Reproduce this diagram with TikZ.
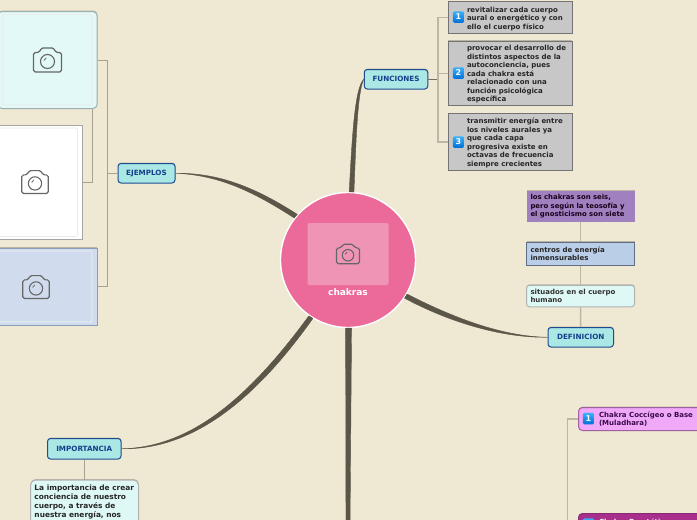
\documentclass[tikz,border=0pt]{standalone}
\usepackage{fontspec}
\setmainfont{DejaVu Sans}
\usetikzlibrary{shadows}
\definecolor{bgc}{HTML}{EFE8D2}
\definecolor{trunkc}{HTML}{5A5648}
\definecolor{linkc}{HTML}{A8A18F}
\definecolor{linkl}{HTML}{BDB6A2}
\definecolor{tealc}{HTML}{A9E8E4}
\definecolor{navyc}{HTML}{1F4B8F}
\definecolor{navyt}{HTML}{163F8C}
\definecolor{rosec}{HTML}{EC6A9A}
\definecolor{rosel}{HTML}{F094B5}
\definecolor{palec}{HTML}{E2F9F7}
\definecolor{paleb}{HTML}{9DB0AE}
\definecolor{bluep}{HTML}{D0DCEE}
\definecolor{bluepb}{HTML}{8B9CB8}
\definecolor{purpc}{HTML}{A180C0}
\definecolor{blued}{HTML}{BACEE8}
\definecolor{bluedb}{HTML}{5F6E85}
\definecolor{paled}{HTML}{DDF8F5}
\definecolor{pinkc}{HTML}{F0A8F8}
\definecolor{pinkb}{HTML}{A060A0}
\definecolor{pinkt}{HTML}{3A0A4A}
\definecolor{magc}{HTML}{A8308C}
\definecolor{magb}{HTML}{8C2878}
\definecolor{badget}{HTML}{3CB0F8}
\definecolor{badgeb}{HTML}{0070D8}
\newcommand{\bodyfont}{\fontsize{7}{8.5}\selectfont\bfseries}
\tikzset{
  softshadow/.style={general shadow={fill=black,opacity=.22,shadow yshift=1pt,shadow xshift=0.3pt}},
  topic/.style={draw=navyc,line width=1pt,fill=tealc,rounded corners=3pt,softshadow,
    text=navyt,font=\fontsize{7.2}{8}\selectfont\bfseries,inner sep=0pt,minimum height=19.5pt},
  photo/.style={draw=#1,line width=1pt,inner sep=0pt,softshadow},
  graybox/.style={draw=black!55,line width=1pt,fill=black!22,softshadow,inner sep=2pt,text=black!85,
    font=\bodyfont,minimum width=124pt},
  badge/.style={rounded corners=1.5pt,top color=badget,bottom color=badgeb,text=white,
    font=\fontsize{8}{8}\selectfont\bfseries,minimum size=11.5pt,inner sep=0pt},
  defbox/.style={font=\bodyfont,inner sep=0pt,minimum width=108pt,softshadow},
  thin link/.style={draw=linkc,line width=0.9pt},
  light link/.style={draw=linkl,line width=1.5pt},
  branch/.style={fill=trunkc,draw=trunkc,line width=0.4pt},
  camera/.pic={
    \draw[draw=black!60,line width=1.2pt,rounded corners=1.8pt]
      (-14,-7.5) -- (-8,-7.5) -- (-6.5,-12) -- (6.5,-12) -- (8,-7.5) -- (14,-7.5) -- (14,12) -- (-14,12) -- cycle;
    \draw[draw=black!60,line width=1.1pt] (0,1.5) circle (7);
    \draw[draw=black!60,line width=0.8pt] (-3.6,0.5) -- (-1.2,-2.2);
  }
}
\begin{document}
\begin{tikzpicture}[x=1pt,y=-1pt]
\useasboundingbox (0,0) rectangle (697,520);
\clip (0,0) rectangle (697,520);
\fill[bgc] (0,0) rectangle (697,520);

% central topic
\node[circle,draw=white,line width=1.4pt,fill=rosec,minimum size=135pt,inner sep=0pt] (main) at (348,260) {};
\node[fill=rosel,rounded corners=2pt,minimum width=81pt,minimum height=62pt,inner sep=0pt] (mainimg) at (348,254) {};
\pic[scale=0.82] at (348,254) {camera};
\node[text=white,font=\fontsize{9}{10}\selectfont\bfseries,inner sep=0pt] (maintxt) at (348,292) {chakras};

% topics
\node[topic,minimum width=57pt] (ej) at (146.5,173.25) {EJEMPLOS};
\node[topic,minimum width=63.5pt] (fu) at (396,79.25) {FUNCIONES};
\node[topic,minimum width=65.5pt] (de) at (580.75,337.25) {DEFINICION};
\node[topic,minimum width=73.5pt,minimum height=20.5pt] (im) at (84.25,448.75) {IMPORTANCIA};
\coordinate (downl) at (346,530);
\coordinate (downr) at (350,530);

% tapered main branches
\path[branch] (main.85.5) .. controls (356,140) and (357.5,92) .. (fu.west) .. controls (354.5,88) and (352,140) .. (main.89.5) -- cycle;
\path[branch] (main.138) .. controls (250,184) and (215,173) .. (ej.east) .. controls (215,175) and (248,188) .. (main.142) -- cycle;
\path[branch] (main.-30.5) .. controls (450,316) and (500,336.5) .. (de.west) .. controls (500,338) and (447,321) .. (main.-34.5) -- cycle;
\path[branch] (main.-121.5) .. controls (252,404) and (190,450) .. (im.east) .. controls (190,447.5) and (248,399) .. (main.-125.5) -- cycle;
\path[branch] (main.-87.5) -- (downr) -- (downl) -- (main.-92.5) -- cycle;

% example pictures
\node[photo=paleb,fill=palec,rounded corners=4pt,minimum width=99pt,minimum height=97pt] (p1) at (47.5,60) {};
\draw[draw=black!8,rounded corners=2pt,line width=0.7pt] (3,14.5) rectangle (92,105);
\pic at (47.5,60) {camera};
\node[photo=black!35,fill=white,minimum width=100pt,minimum height=114pt] (p2) at (32,182.5) {};
\draw[draw=black!8,rounded corners=2pt,line width=0.7pt] (-10,128) rectangle (77.5,236.5);
\pic[scale=0.95] at (35,182) {camera};
\node[photo=bluepb,fill=bluep,minimum width=115pt,minimum height=77pt] (p3) at (39.5,286.5) {};
\draw[draw=black!6,rounded corners=2pt,line width=0.7pt] (-10,251) rectangle (92,322);
\pic[scale=0.95] at (36,287) {camera};
\coordinate (ejtrunk) at (107.5,173.25);
\coordinate (p1low) at (92.5,108.5);
\draw[thin link] (ej.west) -- (ejtrunk);
\draw[thin link] (p1.east) -| (ejtrunk);
\draw[thin link] (p3.east) -| (ejtrunk);
\draw[thin link] (p1low) |- (p2.east);

% funciones
\node[graybox,minimum height=31.5pt] (f1) at (510,17.25) {\hspace{17pt}\parbox[c]{103pt}{\vspace{3pt}\raggedright revitalizar cada cuerpo\\aural o energético y con\\ello el cuerpo físico}};
\node[graybox,minimum height=64.5pt] (f2) at (510,73.25) {\hspace{17pt}\parbox[c]{103pt}{\vspace{2pt}\raggedright provocar el desarrollo de\\distintos aspectos de la\\autoconciencia, pues\\cada chakra está\\relacionado con una\\función psicológica\\específica}};
\node[graybox,minimum height=56.5pt] (f3) at (510,141.75) {\hspace{17pt}\parbox[c]{103pt}{\vspace{2pt}\raggedright transmitir energía entre\\los niveles aurales ya\\que cada capa\\progresiva existe en\\octavas de frecuencia\\siempre crecientes}};
\node[badge] (b1) at (458.5,17) {1};
\node[badge] (b2) at (458.5,73) {2};
\node[badge] (b3) at (458.5,142) {3};
\coordinate (futrunk) at (438,79.25);
\draw[draw=trunkc!85,line width=1pt] (fu.east) -- (futrunk);
\draw[light link] (f1.west) -| (futrunk);
\draw[light link] (f3.west) -| (futrunk);
\draw[light link] (f2.west) -- (f2.west -| futrunk);

% definicion
\node[defbox,fill=purpc,text=black!80!violet,minimum height=31pt] (d1) at (580.5,206.5) {\parbox[c]{100pt}{\raggedright\fontsize{6.9}{8.5}\selectfont los chakras son seis,\\pero según la teosofía y\\el gnosticismo son siete}};
\node[defbox,draw=bluedb,line width=1pt,fill=blued,text=black!85,minimum height=23pt] (d2) at (580.5,253.5) {\parbox[c]{100pt}{\raggedright centros de energía\\inmensurables}};
\node[defbox,draw=black!30,line width=1pt,fill=paled,text=black!80,rounded corners=3pt,minimum height=21.5pt] (d3) at (580.5,296) {\parbox[c]{100pt}{\raggedright situados en el cuerpo\\humano}};
\draw[light link] (d1.south) -- (d2.north);
\draw[light link] (d2.south) -- (d3.north);
\draw[light link] (d3.south) -- (de.north);

% importancia
\node[draw=black!30,line width=1pt,fill=paled,rounded corners=5pt,anchor=north west,inner sep=0pt,font=\fontsize{7.4}{9.1}\selectfont\bfseries,text=black!85,softshadow] (it) at (30,479.5) {\hspace{4pt}\parbox[t]{104pt}{\rule{0pt}{10pt}\raggedright La importancia de crear\\conciencia de nuestro\\cuerpo, a través de\\nuestra energía, nos\\~\\~}};
\draw[thin link] (im.south) -- (it.north -| im.south);

% chakras
\node[draw=pinkb,line width=1pt,fill=pinkc,rounded corners=4pt,anchor=north west,inner sep=0pt,text=pinkt,font=\bodyfont,minimum width=140pt,minimum height=23pt,softshadow] (c1) at (578,407) {\hspace{18.5pt}\parbox[c]{117.5pt}{\raggedright\fontsize{7}{8}\selectfont Chakra Coccígeo o Base\\(Muladhara)}};
\node[badge] (cb1) at (588.5,418.5) {1};
\node[draw=magb,line width=1pt,fill=magc,rounded corners=4pt,anchor=north west,inner sep=0pt,text=white!85!pink,font=\bodyfont,minimum width=140pt,minimum height=30pt] (c2) at (578,513) {\hspace{18.5pt}\parbox[t]{117.5pt}{\rule{0pt}{7pt}\raggedright\fontsize{7}{8}\selectfont Chakra Prostático o\\~\\~}};
\node[badge] (cb2) at (588.5,524) {2};
\coordinate (chtrunk) at (567.5,530);
\draw[light link,line width=1.1pt] (c1.west) -| (chtrunk);
\end{tikzpicture}
\end{document}
